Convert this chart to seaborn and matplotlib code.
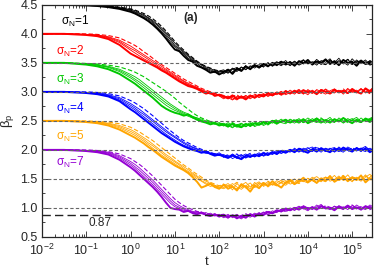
import numpy as np
import pandas as pd
import seaborn as sns
import matplotlib.pyplot as plt
from matplotlib.ticker import MultipleLocator, FixedLocator, NullFormatter, FormatStrFormatter, LogFormatterSciNotation

# log10(t) grid shared by all runs
log_t = [-2.0, -1.5, -1.0, -0.75, -0.5, -0.25, 0.0,
         0.1, 0.2, 0.3, 0.4, 0.5, 0.6, 0.7, 0.8, 0.9, 1.0,
         1.1, 1.2, 1.3, 1.4, 1.5, 1.6, 1.7, 1.8, 1.9, 2.0,
         2.1, 2.2, 2.3, 2.4, 2.5, 2.6, 2.7, 2.8, 2.9, 3.0,
         3.1, 3.2, 3.3, 3.4, 3.5, 3.6, 3.7, 3.8, 3.9, 4.0,
         4.1, 4.2, 4.3, 4.4, 4.5, 4.6, 4.7, 4.8, 4.9, 5.0,
         5.1, 5.2, 5.3, 5.4, 5.5]

x_ticks = [1e-2, 1e-1, 1e0, 1e1, 1e2, 1e3, 1e4, 1e5]
sigma_labels = ["1", "2", "3", "4", "5", "7"]
sigma_colors = ["#000000", "#ff0000", "#00c800", "#0000ff", "#ffa500", "#9400d3"]
run_kinds = ["thick", "thin", "thin", "thin", "dash"]
plateaus = [3.5, 3.0, 2.5, 2.0, 1.5, 1.0]
beta_min = 0.87

beta_s1 = [
    [4.50, 4.50, 4.49, 4.48, 4.46, 4.43, 4.38,
     4.35, 4.31, 4.27, 4.22, 4.16, 4.09, 4.01, 3.92, 3.82, 3.73,
     3.70, 3.62, 3.55, 3.52, 3.45, 3.42, 3.38, 3.33, 3.35, 3.30,
     3.34, 3.38, 3.31, 3.40, 3.36, 3.44, 3.39, 3.46, 3.42, 3.48,
     3.44, 3.50, 3.46, 3.52, 3.47, 3.51, 3.45, 3.53, 3.49, 3.55,
     3.47, 3.52, 3.50, 3.56, 3.48, 3.53, 3.46, 3.55, 3.50, 3.52,
     3.45, 3.54, 3.48, 3.50, 3.46],
    [4.50, 4.50, 4.49, 4.48, 4.47, 4.44, 4.40,
     4.37, 4.33, 4.29, 4.25, 4.19, 4.12, 4.04, 3.96, 3.86, 3.78,
     3.71, 3.66, 3.58, 3.54, 3.49, 3.43, 3.40, 3.36, 3.33, 3.36,
     3.38, 3.33, 3.41, 3.37, 3.43, 3.38, 3.45, 3.41, 3.47, 3.43,
     3.49, 3.45, 3.51, 3.48, 3.54, 3.46, 3.50, 3.47, 3.55, 3.49,
     3.52, 3.46, 3.54, 3.51, 3.57, 3.47, 3.52, 3.49, 3.56, 3.48,
     3.53, 3.50, 3.55, 3.47, 3.52],
    [4.50, 4.50, 4.50, 4.49, 4.47, 4.45, 4.41,
     4.38, 4.35, 4.31, 4.27, 4.21, 4.15, 4.07, 3.99, 3.90, 3.80,
     3.74, 3.68, 3.61, 3.55, 3.51, 3.46, 3.41, 3.38, 3.35, 3.33,
     3.31, 3.36, 3.40, 3.35, 3.42, 3.39, 3.43, 3.47, 3.41, 3.46,
     3.50, 3.44, 3.49, 3.45, 3.51, 3.48, 3.53, 3.46, 3.50, 3.52,
     3.48, 3.56, 3.49, 3.47, 3.53, 3.50, 3.58, 3.48, 3.51, 3.47,
     3.55, 3.49, 3.52, 3.46, 3.49],
    [4.50, 4.50, 4.50, 4.49, 4.48, 4.45, 4.42,
     4.40, 4.36, 4.33, 4.28, 4.23, 4.17, 4.10, 4.02, 3.93, 3.84,
     3.76, 3.70, 3.63, 3.57, 3.52, 3.47, 3.43, 3.40, 3.37, 3.35,
     3.36, 3.32, 3.39, 3.42, 3.37, 3.44, 3.40, 3.45, 3.43, 3.49,
     3.45, 3.48, 3.52, 3.47, 3.50, 3.45, 3.52, 3.49, 3.54, 3.48,
     3.51, 3.53, 3.47, 3.55, 3.50, 3.48, 3.54, 3.51, 3.46, 3.57,
     3.49, 3.52, 3.48, 3.54, 3.50],
    [4.50, 4.50, 4.50, 4.49, 4.48, 4.46, 4.43,
     4.41, 4.38, 4.35, 4.31, 4.26, 4.20, 4.13, 4.05, 3.96, 3.87,
     3.79, 3.72, 3.65, 3.59, 3.53, 3.48, 3.44, 3.41, 3.38, 3.36,
     3.35, 3.39, 3.34, 3.41, 3.38, 3.45, 3.40, 3.44, 3.47, 3.43,
     3.50, 3.46, 3.48, 3.53, 3.49, 3.52, 3.47, 3.51, 3.55, 3.50,
     3.48, 3.54, 3.51, 3.47, 3.55, 3.49, 3.53, 3.50, 3.56, 3.48,
     3.51, 3.54, 3.49, 3.53, 3.47],
]

beta_s2 = [
    [4.00, 4.00, 3.98, 3.96, 3.91, 3.81, 3.66,
     3.62, 3.58, 3.54, 3.50, 3.46, 3.42, 3.37, 3.33, 3.28, 3.23,
     3.18, 3.14, 3.10, 3.08, 3.05, 3.01, 2.97, 2.99, 2.93, 2.95,
     2.92, 2.89, 2.94, 2.88, 2.91, 2.87, 2.93, 2.90, 2.95, 2.92,
     2.97, 2.94, 2.99, 2.96, 3.01, 2.97, 3.02, 2.98, 3.03, 2.99,
     3.01, 2.96, 3.03, 3.00, 2.97, 3.04, 2.99, 3.02, 2.98, 3.05,
     3.00, 2.97, 3.06, 3.01, 3.08],
    [4.00, 4.00, 3.99, 3.97, 3.93, 3.85, 3.72,
     3.67, 3.62, 3.57, 3.53, 3.48, 3.44, 3.39, 3.35, 3.30, 3.25,
     3.20, 3.16, 3.12, 3.09, 3.06, 3.03, 2.99, 2.96, 2.98, 2.93,
     2.90, 2.93, 2.87, 2.92, 2.89, 2.94, 2.88, 2.93, 2.91, 2.96,
     2.93, 2.98, 2.95, 3.00, 2.97, 3.03, 2.98, 3.01, 2.96, 3.04,
     2.99, 3.02, 2.97, 3.05, 3.00, 2.98, 3.03, 2.96, 3.04, 3.01,
     2.98, 3.05, 3.00, 3.03, 2.99],
    [4.00, 4.00, 3.99, 3.98, 3.94, 3.87, 3.75,
     3.71, 3.66, 3.61, 3.56, 3.51, 3.46, 3.41, 3.37, 3.32, 3.27,
     3.22, 3.18, 3.13, 3.10, 3.07, 3.02, 3.00, 2.97, 2.94, 2.96,
     2.94, 2.90, 2.86, 2.91, 2.93, 2.88, 2.92, 2.95, 2.90, 2.94,
     2.98, 2.93, 2.97, 3.01, 2.95, 2.99, 3.02, 2.97, 3.00, 2.95,
     3.03, 2.98, 3.01, 3.04, 2.97, 3.00, 3.02, 2.98, 3.06, 2.99,
     3.03, 2.97, 3.04, 3.00, 3.02],
    [4.00, 4.00, 3.99, 3.98, 3.95, 3.89, 3.79,
     3.74, 3.69, 3.64, 3.59, 3.54, 3.49, 3.44, 3.39, 3.34, 3.29,
     3.24, 3.19, 3.15, 3.11, 3.08, 3.04, 3.01, 2.98, 2.95, 2.93,
     2.88, 2.92, 2.90, 2.86, 2.93, 2.90, 2.95, 2.89, 2.94, 2.97,
     2.92, 2.96, 2.99, 2.94, 2.98, 3.00, 2.96, 3.03, 2.99, 3.01,
     2.97, 3.04, 3.00, 2.96, 3.02, 3.05, 2.99, 3.01, 2.97, 3.03,
     3.00, 3.06, 2.98, 3.02, 3.10],
    [4.00, 4.00, 4.00, 3.99, 3.97, 3.93, 3.84,
     3.80, 3.75, 3.69, 3.64, 3.58, 3.52, 3.47, 3.42, 3.37, 3.32,
     3.27, 3.22, 3.18, 3.14, 3.10, 3.06, 3.03, 3.00, 2.97, 2.95,
     2.93, 2.88, 2.92, 2.95, 2.89, 2.93, 2.91, 2.96, 2.92, 2.95,
     2.99, 2.95, 2.98, 2.96, 3.02, 2.98, 3.00, 3.04, 2.97, 3.02,
     3.00, 2.98, 3.04, 3.01, 2.99, 3.03, 3.00, 3.05, 2.98, 3.02,
     2.99, 3.04, 3.01, 2.97, 3.03],
]

beta_s3 = [
    [3.50, 3.50, 3.47, 3.44, 3.39, 3.31, 3.19,
     3.14, 3.08, 3.02, 2.96, 2.90, 2.83, 2.76, 2.71, 2.67, 2.64,
     2.62, 2.59, 2.61, 2.56, 2.52, 2.49, 2.47, 2.44, 2.46, 2.42,
     2.44, 2.40, 2.45, 2.41, 2.39, 2.44, 2.42, 2.46, 2.43, 2.48,
     2.45, 2.50, 2.46, 2.49, 2.52, 2.47, 2.51, 2.48, 2.53, 2.46,
     2.50, 2.54, 2.48, 2.51, 2.47, 2.53, 2.49, 2.55, 2.50, 2.46,
     2.52, 2.48, 2.54, 2.51, 2.57],
    [3.50, 3.50, 3.48, 3.46, 3.42, 3.35, 3.24,
     3.19, 3.13, 3.07, 3.01, 2.95, 2.89, 2.83, 2.77, 2.72, 2.68,
     2.65, 2.61, 2.58, 2.55, 2.53, 2.50, 2.47, 2.48, 2.44, 2.45,
     2.41, 2.45, 2.39, 2.43, 2.46, 2.40, 2.45, 2.42, 2.47, 2.44,
     2.49, 2.46, 2.51, 2.47, 2.45, 2.52, 2.49, 2.54, 2.47, 2.51,
     2.48, 2.55, 2.50, 2.46, 2.53, 2.49, 2.51, 2.47, 2.54, 2.50,
     2.48, 2.55, 2.49, 2.52, 2.50],
    [3.50, 3.50, 3.48, 3.46, 3.43, 3.37, 3.27,
     3.22, 3.17, 3.11, 3.05, 2.99, 2.93, 2.87, 2.81, 2.76, 2.71,
     2.67, 2.63, 2.60, 2.57, 2.55, 2.51, 2.49, 2.46, 2.47, 2.43,
     2.46, 2.42, 2.38, 2.44, 2.41, 2.46, 2.40, 2.45, 2.47, 2.42,
     2.46, 2.51, 2.48, 2.53, 2.47, 2.50, 2.46, 2.52, 2.49, 2.55,
     2.50, 2.47, 2.53, 2.51, 2.56, 2.48, 2.52, 2.46, 2.51, 2.54,
     2.49, 2.47, 2.53, 2.50, 2.55],
    [3.50, 3.50, 3.49, 3.47, 3.44, 3.39, 3.30,
     3.26, 3.21, 3.15, 3.09, 3.03, 2.97, 2.91, 2.85, 2.79, 2.74,
     2.69, 2.65, 2.62, 2.58, 2.55, 2.53, 2.50, 2.48, 2.45, 2.47,
     2.42, 2.47, 2.43, 2.39, 2.45, 2.43, 2.47, 2.40, 2.44, 2.49,
     2.45, 2.48, 2.44, 2.50, 2.48, 2.53, 2.49, 2.46, 2.51, 2.48,
     2.54, 2.49, 2.46, 2.52, 2.50, 2.47, 2.55, 2.50, 2.48, 2.52,
     2.56, 2.49, 2.51, 2.47, 2.53],
    [3.50, 3.50, 3.49, 3.48, 3.46, 3.43, 3.37,
     3.34, 3.30, 3.26, 3.21, 3.16, 3.11, 3.06, 3.01, 2.95, 2.89,
     2.82, 2.76, 2.70, 2.64, 2.59, 2.55, 2.52, 2.49, 2.47, 2.46,
     2.45, 2.43, 2.47, 2.42, 2.44, 2.40, 2.45, 2.48, 2.44, 2.47,
     2.43, 2.49, 2.52, 2.48, 2.50, 2.46, 2.53, 2.50, 2.47, 2.52,
     2.49, 2.51, 2.55, 2.49, 2.48, 2.52, 2.50, 2.53, 2.47, 2.51,
     2.49, 2.53, 2.50, 2.54, 2.58],
]

beta_s4 = [
    [3.00, 3.00, 2.98, 2.96, 2.92, 2.84, 2.70,
     2.65, 2.59, 2.53, 2.47, 2.41, 2.35, 2.29, 2.24, 2.19, 2.14,
     2.10, 2.06, 2.03, 2.00, 1.98, 1.95, 1.97, 1.93, 1.90, 1.92,
     1.89, 1.86, 1.91, 1.87, 1.84, 1.90, 1.88, 1.92, 1.89, 1.94,
     1.91, 1.96, 1.93, 1.98, 1.95, 2.00, 1.96, 2.02, 1.98, 1.95,
     2.01, 1.97, 2.03, 1.99, 1.96, 2.02, 1.98, 2.04, 2.00, 1.97,
     2.03, 1.99, 2.02, 1.96, 2.01],
    [3.00, 3.00, 2.99, 2.97, 2.93, 2.86, 2.74,
     2.69, 2.63, 2.57, 2.51, 2.45, 2.39, 2.33, 2.27, 2.22, 2.17,
     2.12, 2.08, 2.05, 2.02, 1.99, 1.96, 1.94, 1.95, 1.91, 1.93,
     1.87, 1.91, 1.85, 1.89, 1.92, 1.86, 1.90, 1.88, 1.93, 1.90,
     1.95, 1.92, 1.97, 1.94, 1.99, 1.96, 2.03, 1.97, 2.00, 2.04,
     1.98, 2.01, 1.96, 2.03, 2.00, 1.97, 2.05, 1.99, 2.02, 1.98,
     2.04, 2.00, 1.97, 2.03, 1.99],
    [3.00, 3.00, 2.99, 2.97, 2.94, 2.88, 2.77,
     2.72, 2.66, 2.61, 2.55, 2.49, 2.43, 2.37, 2.31, 2.26, 2.21,
     2.16, 2.11, 2.07, 2.04, 2.01, 1.98, 1.95, 1.93, 1.94, 1.90,
     1.92, 1.88, 1.90, 1.85, 1.89, 1.93, 1.87, 1.91, 1.95, 1.89,
     1.93, 1.97, 1.92, 1.99, 1.95, 1.98, 2.01, 1.96, 2.03, 1.99,
     1.97, 2.04, 2.00, 1.98, 2.03, 1.96, 2.01, 1.98, 2.05, 2.01,
     1.98, 2.02, 2.06, 1.99, 2.03],
    [3.00, 3.00, 2.99, 2.98, 2.95, 2.90, 2.80,
     2.75, 2.70, 2.64, 2.58, 2.52, 2.46, 2.40, 2.34, 2.28, 2.23,
     2.18, 2.13, 2.09, 2.05, 2.02, 1.99, 1.96, 1.94, 1.92, 1.95,
     1.90, 1.87, 1.93, 1.88, 1.91, 1.86, 1.92, 1.89, 1.91, 1.96,
     1.92, 1.95, 1.99, 1.94, 1.97, 2.01, 1.97, 2.00, 1.96, 2.02,
     2.05, 1.98, 2.01, 1.97, 2.02, 2.04, 1.99, 1.96, 2.03, 2.00,
     2.02, 1.97, 2.04, 2.01, 1.98],
    [3.00, 3.00, 3.00, 2.99, 2.97, 2.93, 2.85,
     2.81, 2.76, 2.71, 2.65, 2.59, 2.52, 2.46, 2.39, 2.33, 2.27,
     2.21, 2.16, 2.12, 2.08, 2.04, 2.01, 1.98, 1.96, 1.93, 1.91,
     1.88, 1.92, 1.89, 1.93, 1.86, 1.90, 1.94, 1.88, 1.92, 1.90,
     1.96, 1.93, 1.96, 2.00, 1.96, 1.99, 1.97, 2.03, 2.00, 1.98,
     2.02, 2.05, 1.99, 2.02, 1.98, 2.00, 2.03, 2.01, 1.97, 2.04,
     1.99, 2.03, 2.00, 1.98, 2.02],
]

beta_s5 = [
    [2.50, 2.50, 2.48, 2.46, 2.42, 2.35, 2.25,
     2.21, 2.16, 2.11, 2.05, 2.00, 1.94, 1.88, 1.83, 1.78, 1.73,
     1.69, 1.65, 1.60, 1.53, 1.45, 1.35, 1.38, 1.42, 1.36, 1.33,
     1.40, 1.33, 1.37, 1.30, 1.41, 1.36, 1.28, 1.39, 1.34, 1.43,
     1.38, 1.46, 1.40, 1.35, 1.44, 1.48, 1.41, 1.46, 1.52, 1.44,
     1.49, 1.43, 1.51, 1.47, 1.55, 1.45, 1.50, 1.54, 1.46, 1.52,
     1.48, 1.56, 1.44, 1.51, 1.47],
    [2.50, 2.50, 2.49, 2.47, 2.44, 2.38, 2.29,
     2.25, 2.20, 2.15, 2.09, 2.03, 1.97, 1.91, 1.86, 1.81, 1.76,
     1.71, 1.66, 1.61, 1.56, 1.50, 1.46, 1.41, 1.37, 1.39, 1.34,
     1.35, 1.39, 1.31, 1.42, 1.35, 1.38, 1.33, 1.44, 1.37, 1.40,
     1.45, 1.39, 1.43, 1.48, 1.42, 1.46, 1.40, 1.49, 1.45, 1.51,
     1.47, 1.43, 1.50, 1.53, 1.46, 1.49, 1.55, 1.47, 1.51, 1.45,
     1.53, 1.49, 1.57, 1.48, 1.52],
    [2.50, 2.50, 2.49, 2.48, 2.45, 2.40, 2.32,
     2.28, 2.23, 2.18, 2.12, 2.07, 2.01, 1.95, 1.89, 1.84, 1.79,
     1.74, 1.68, 1.63, 1.58, 1.53, 1.47, 1.43, 1.40, 1.36, 1.38,
     1.38, 1.42, 1.35, 1.33, 1.39, 1.44, 1.36, 1.41, 1.45, 1.37,
     1.42, 1.40, 1.47, 1.43, 1.39, 1.45, 1.50, 1.44, 1.48, 1.46,
     1.53, 1.48, 1.45, 1.52, 1.49, 1.56, 1.47, 1.51, 1.48, 1.54,
     1.50, 1.46, 1.53, 1.58, 1.49],
    [2.50, 2.50, 2.49, 2.48, 2.46, 2.42, 2.35,
     2.31, 2.26, 2.21, 2.16, 2.10, 2.04, 1.98, 1.92, 1.87, 1.81,
     1.76, 1.71, 1.66, 1.60, 1.55, 1.50, 1.46, 1.42, 1.39, 1.36,
     1.33, 1.37, 1.42, 1.36, 1.32, 1.38, 1.43, 1.35, 1.40, 1.44,
     1.36, 1.42, 1.39, 1.45, 1.47, 1.41, 1.44, 1.50, 1.46, 1.43,
     1.50, 1.54, 1.48, 1.45, 1.52, 1.48, 1.53, 1.49, 1.57, 1.47,
     1.50, 1.55, 1.48, 1.53, 1.60],
    [2.50, 2.50, 2.50, 2.49, 2.48, 2.45, 2.39,
     2.35, 2.31, 2.26, 2.21, 2.16, 2.10, 2.04, 1.98, 1.92, 1.86,
     1.80, 1.74, 1.69, 1.63, 1.58, 1.53, 1.48, 1.44, 1.41, 1.38,
     1.41, 1.36, 1.39, 1.44, 1.38, 1.34, 1.40, 1.37, 1.43, 1.39,
     1.46, 1.41, 1.38, 1.44, 1.42, 1.49, 1.45, 1.42, 1.48, 1.51,
     1.45, 1.50, 1.47, 1.53, 1.50, 1.47, 1.52, 1.56, 1.49, 1.53,
     1.51, 1.48, 1.55, 1.50, 1.54],
]

beta_s7 = [
    [2.00, 2.00, 1.98, 1.96, 1.92, 1.83, 1.70,
     1.64, 1.57, 1.50, 1.43, 1.36, 1.28, 1.19, 1.09, 1.00, 0.98,
     0.97, 0.93, 0.95, 0.91, 0.89, 0.92, 0.88, 0.86, 0.89, 0.85,
     0.88, 0.84, 0.87, 0.82, 0.86, 0.83, 0.89, 0.85, 0.90, 0.88,
     0.93, 0.91, 0.96, 0.94, 0.99, 0.96, 1.00, 0.97, 1.02, 0.98,
     1.01, 0.97, 1.03, 0.99, 1.00, 0.96, 1.02, 0.99, 1.04, 0.98,
     1.01, 0.97, 1.03, 1.00, 0.98],
    [2.00, 2.00, 1.99, 1.97, 1.94, 1.86, 1.74,
     1.68, 1.61, 1.54, 1.47, 1.40, 1.32, 1.24, 1.16, 1.08, 1.02,
     0.99, 0.96, 0.94, 0.92, 0.94, 0.90, 0.88, 0.91, 0.87, 0.89,
     0.85, 0.89, 0.83, 0.87, 0.84, 0.88, 0.86, 0.91, 0.87, 0.92,
     0.89, 0.95, 0.92, 0.97, 0.95, 1.00, 0.96, 1.02, 0.99, 0.95,
     1.01, 0.98, 1.04, 1.00, 0.97, 1.03, 0.99, 1.02, 0.97, 1.04,
     1.00, 0.98, 1.03, 0.99, 1.01],
    [2.00, 2.00, 1.99, 1.97, 1.95, 1.88, 1.77,
     1.71, 1.65, 1.58, 1.51, 1.44, 1.36, 1.28, 1.20, 1.12, 1.05,
     1.01, 0.98, 0.95, 0.93, 0.91, 0.93, 0.89, 0.87, 0.90, 0.86,
     0.86, 0.82, 0.88, 0.85, 0.81, 0.87, 0.84, 0.88, 0.92, 0.87,
     0.94, 0.90, 0.93, 0.98, 0.94, 0.97, 1.01, 0.98, 1.04, 1.00,
     0.98, 1.05, 0.99, 1.02, 0.98, 1.03, 1.00, 0.97, 1.04, 1.01,
     0.98, 1.02, 0.99, 1.05, 1.01],
    [2.00, 2.00, 1.99, 1.98, 1.96, 1.90, 1.80,
     1.75, 1.69, 1.62, 1.55, 1.48, 1.40, 1.32, 1.24, 1.16, 1.09,
     1.04, 1.00, 0.97, 0.94, 0.92, 0.90, 0.92, 0.88, 0.86, 0.88,
     0.83, 0.87, 0.85, 0.89, 0.83, 0.86, 0.90, 0.87, 0.89, 0.93,
     0.88, 0.92, 0.96, 0.93, 0.98, 0.95, 0.99, 1.03, 0.98, 1.01,
     0.97, 1.02, 1.06, 0.99, 1.01, 0.97, 1.04, 1.00, 1.02, 0.98,
     1.05, 1.00, 0.97, 1.03, 0.99],
    [2.00, 2.00, 2.00, 1.99, 1.97, 1.93, 1.85,
     1.80, 1.75, 1.69, 1.62, 1.55, 1.47, 1.39, 1.31, 1.23, 1.15,
     1.09, 1.04, 1.00, 0.97, 0.94, 0.92, 0.90, 0.89, 0.87, 0.88,
     0.89, 0.85, 0.88, 0.84, 0.87, 0.90, 0.85, 0.89, 0.87, 0.91,
     0.95, 0.90, 0.94, 0.97, 0.93, 0.99, 0.96, 1.00, 1.03, 0.97,
     1.02, 1.00, 0.98, 1.04, 1.01, 0.99, 1.03, 0.98, 1.01, 1.05,
     0.99, 1.02, 1.00, 0.97, 1.02],
]

all_runs = [beta_s1, beta_s2, beta_s3, beta_s4, beta_s5, beta_s7]

# long table for seaborn
rows = []
for sig, runs in zip(sigma_labels, all_runs):
    for k, (kind, vals) in enumerate(zip(run_kinds, runs)):
        for lt, b in zip(log_t, vals):
            rows.append((10 ** lt, b, sig, f"{sig}-{k}", kind))
df = pd.DataFrame(rows, columns=["t", "beta", "sigma", "run", "kind"])

sns.set_theme(style="ticks")
plt.rcParams['font.family'] = ['Liberation Sans', 'DejaVu Sans']
plt.rcParams['mathtext.fontset'] = 'custom'
plt.rcParams['mathtext.rm'] = 'Liberation Sans'
plt.rcParams['mathtext.it'] = 'Liberation Sans:italic'

fig = plt.figure(figsize=(3.74, 2.68), dpi=100)
ax = fig.add_axes([0.112, 0.116, 0.883, 0.866])
ax.set_xscale("log")

sns.lineplot(data=df, x="t", y="beta", hue="sigma", palette=sigma_colors,
             units="run", estimator=None, style="kind",
             dashes={"thick": "", "thin": "", "dash": (4, 2)},
             size="kind", sizes={"thick": 1.4, "thin": 0.6, "dash": 0.8},
             legend=False, ax=ax, zorder=2)

# reference levels
for p in plateaus:
    ax.axhline(p, color="#666666", lw=0.8, ls=(0, (3, 2)), zorder=3)
ax.axhline(beta_min, color="#222222", lw=1.0, ls=(0, (6, 3)), zorder=3)
ax.text(0.115, 0.74, "0.87", fontsize=8.5, ha="left", va="center")

# sigma labels
label_pos = [(0.027, 4.21), (0.021, 3.70), (0.021, 3.21), (0.021, 2.72), (0.021, 2.24), (0.021, 1.78)]
for sig, col, (x, y) in zip(sigma_labels, sigma_colors, label_pos):
    ax.text(x, y, "σ$_\\mathrm{N}$=" + sig, color=col, fontsize=8.5, ha="left", va="center")

ax.text(0.427, 0.944, "(a)", transform=ax.transAxes, fontsize=8.5, fontweight="bold",
        ha="left", va="center")

ax.set_xlim(1e-2, 10 ** 5.45)
ax.set_ylim(0.5, 4.5)
ax.yaxis.set_major_locator(MultipleLocator(0.5))
ax.yaxis.set_minor_locator(MultipleLocator(0.25))
ax.yaxis.set_major_formatter(FormatStrFormatter('%.1f'))
ax.xaxis.set_major_locator(FixedLocator(x_ticks))
ax.xaxis.set_major_formatter(LogFormatterSciNotation())
minor_ticks = [m * d for d in x_ticks for m in range(2, 10)]
ax.xaxis.set_minor_locator(FixedLocator(minor_ticks))
ax.xaxis.set_minor_formatter(NullFormatter())
ax.tick_params(which="both", direction="in", top=True, right=True, labelsize=9, width=0.6)
ax.tick_params(which="major", length=4.5, pad=3)
ax.tick_params(axis="x", which="major", pad=4)
ax.tick_params(which="minor", length=2.5)
for s in ax.spines.values():
    s.set_linewidth(0.9)

ax.set_xlabel("t", fontsize=9.5, labelpad=-1)
ax.set_ylabel("β$_\\mathrm{p}$", fontsize=9.5)
ax.yaxis.set_label_coords(-0.078, 0.5)

fig.savefig("out.png", dpi=100)
